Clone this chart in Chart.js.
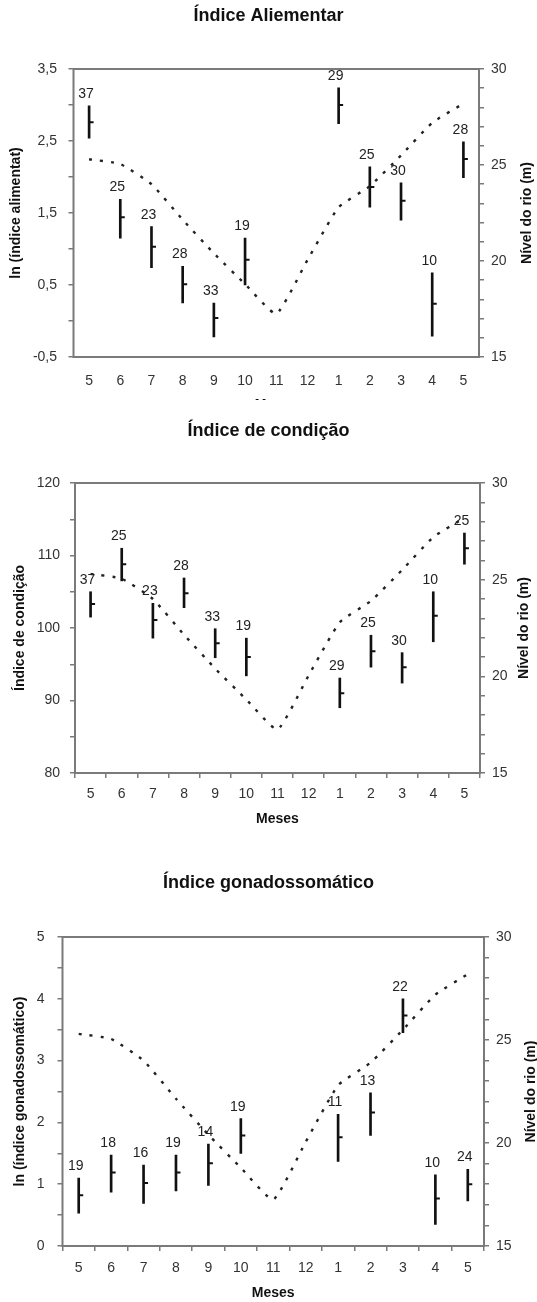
<!DOCTYPE html>
<html lang="pt">
<head>
<meta charset="utf-8">
<title>Índices mensais e nível do rio</title>
<script src="https://cdn.jsdelivr.net/npm/chart.js@4/dist/chart.umd.min.js"></script>
<style>
  html, body { margin: 0; padding: 0; background: #fff; }
  body { width: 537px; height: 1302px; position: relative; overflow: hidden; }
  .panel { position: absolute; left: 0; width: 537px; }
  canvas { display: block; }
</style>
</head>
<body>
<div class="panel" style="top:0;height:400px;overflow:hidden"><canvas id="c1" width="537" height="420"></canvas></div>
<div class="panel" style="top:405px;height:425px"><canvas id="c2" width="537" height="425"></canvas></div>
<div class="panel" style="top:850px;height:452px"><canvas id="c3" width="537" height="452"></canvas></div>

<script>
// Months of the sampling cycle (May to May)
const months = ['5', '6', '7', '8', '9', '10', '11', '12', '1', '2', '3', '4', '5'];

// River level (m), right axis of every panel
const riverLevel = [25.3, 25.05, 24.0, 22.15, 20.4, 18.8, 17.25, 20.05, 22.8, 23.9, 25.5, 27.2, 28.2];

// Índice alimentar: ln(index) mean, range and sample size
const alimMean = [2.76, 1.44, 1.03, 0.51, 0.04, 0.85, null, null, 3.00, 1.86, 1.67, 0.24, 2.25];
const alimLow  = [2.54, 1.15, 0.74, 0.25, -0.22, 0.50, null, null, 2.74, 1.58, 1.40, -0.21, 1.99];
const alimHigh = [2.99, 1.69, 1.31, 0.76, 0.25, 1.15, null, null, 3.24, 2.14, 1.92, 0.67, 2.49];
const alimN    = [37, 25, 23, 28, 33, 19, null, null, 29, 25, 30, 10, 28];

// Índice de condição
const condMean = [103.3, 108.8, 101.1, 104.8, 97.9, 96.0, null, null, 91.0, 96.8, 94.6, 101.7, 111.0];
const condLow  = [101.5, 106.5, 98.6, 102.8, 95.9, 93.4, null, null, 89.0, 94.6, 92.4, 98.1, 108.8];
const condHigh = [105.0, 111.0, 103.4, 106.9, 99.9, 98.6, null, null, 93.1, 99.0, 96.6, 105.0, 113.1];
const condN    = [37, 25, 23, 28, 33, 19, null, null, 29, 25, 30, 10, 25];

// Índice gonadossomático: ln(index)
const gonMean = [0.82, 1.19, 1.02, 1.19, 1.34, 1.79, null, null, 1.76, 2.16, 3.73, 0.77, 1.00];
const gonLow  = [0.53, 0.87, 0.69, 0.89, 0.98, 1.50, null, null, 1.37, 1.79, 3.45, 0.35, 0.73];
const gonHigh = [1.10, 1.47, 1.31, 1.47, 1.65, 2.06, null, null, 2.13, 2.48, 4.00, 1.15, 1.24];
const gonN    = [19, 18, 16, 19, 14, 19, null, null, 11, 13, 22, 10, 24];

const FONT = '"Liberation Sans", Arial, Helvetica, sans-serif';
const AXIS_GRAY = '#7a7a7a';
Chart.defaults.font.family = FONT;
Chart.defaults.color = '#333';

// Frame around the plotting area
const plotFrame = {
  id: 'plotFrame',
  afterDatasetsDraw(chart) {
    const { ctx, chartArea: a } = chart;
    ctx.save();
    ctx.strokeStyle = AXIS_GRAY;
    ctx.lineWidth = 2;
    ctx.strokeRect(a.left, a.top, a.right - a.left, a.bottom - a.top);
    ctx.restore();
  }
};

// Sample size written above each range bar
const countLabels = {
  id: 'countLabels',
  afterDatasetsDraw(chart, args, opts) {
    const meta = chart.getDatasetMeta(0);
    const { ctx } = chart;
    ctx.save();
    ctx.font = '14px ' + FONT;
    ctx.fillStyle = '#222';
    ctx.textAlign = 'center';
    ctx.textBaseline = 'middle';
    meta.data.forEach((bar, i) => {
      const n = opts.counts[i];
      if (n == null) return;
      const top = Math.min(bar.y, bar.base);
      ctx.fillText(String(n), bar.x - 3, top - 12);
    });
    ctx.restore();
  }
};

// Right-hand axis title, read from bottom to top
const rightTitle = {
  id: 'rightTitle',
  afterDraw(chart, args, opts) {
    const s = chart.scales.y2;
    const { ctx } = chart;
    ctx.save();
    ctx.translate(opts.x, (s.top + s.bottom) / 2);
    ctx.rotate(-Math.PI / 2);
    ctx.font = 'bold 14px ' + FONT;
    ctx.fillStyle = '#111';
    ctx.textAlign = 'center';
    ctx.textBaseline = 'middle';
    ctx.fillText(opts.text, 0, 0);
    ctx.restore();
  }
};

function onGrid(v, origin, every) {
  const k = (v - origin) / every;
  return Math.abs(k - Math.round(k)) < 1e-6;
}

function buildPanel(id, p) {
  const canvas = document.getElementById(id);
  const H = canvas.height;
  const W = canvas.width;
  const titleLine = 18 * 1.2;
  return new Chart(canvas, {
    type: 'bar',
    data: {
      labels: months,
      datasets: [
        {
          type: 'bar',
          data: p.low.map((v, i) => (v == null ? null : [v, p.high[i]])),
          backgroundColor: '#111',
          barThickness: 2,
          yAxisID: 'y',
          order: 2
        },
        {
          type: 'line',
          data: p.mean,
          showLine: false,
          pointStyle: 'dash',
          pointRadius: 4.5,
          pointBorderWidth: 2,
          pointBorderColor: '#111',
          pointBackgroundColor: '#111',
          yAxisID: 'y',
          order: 1
        },
        {
          type: 'line',
          data: riverLevel,
          yAxisID: 'y2',
          borderColor: '#222',
          borderWidth: 2.4,
          borderDash: [3, 8],
          pointRadius: 0,
          tension: 0.15,
          fill: false,
          order: 0
        }
      ]
    },
    options: {
      responsive: false,
      animation: false,
      events: [],
      layout: { padding: 0 },
      plugins: {
        legend: { display: false },
        tooltip: { enabled: false },
        title: {
          display: true,
          text: p.title,
          color: '#111',
          font: { size: 18, weight: 'bold' },
          padding: { top: p.titleTop, bottom: p.plot.top - p.titleTop - titleLine }
        },
        countLabels: { counts: p.n },
        rightTitle: { text: 'Nível do rio (m)', x: p.rightTitleX }
      },
      scales: {
        x: {
          type: 'category',
          offset: true,
          grid: {
            display: p.xTicks,
            drawOnChartArea: false,
            offset: true,
            tickLength: 5,
            color: AXIS_GRAY,
            lineWidth: 1.5
          },
          border: { display: false },
          ticks: { color: '#333', font: { size: 14 }, padding: p.xPad, maxRotation: 0, autoSkip: false },
          title: {
            display: true,
            text: 'Meses',
            color: '#111',
            font: { size: 14, weight: 'bold' },
            padding: { top: 0, bottom: p.mesesPad }
          },
          afterFit(sc) { sc.height = H - p.plot.bottom; }
        },
        y: {
          position: 'left',
          min: p.yMin,
          max: p.yMax,
          grid: { drawOnChartArea: false, tickLength: 5, color: AXIS_GRAY, lineWidth: 1.5 },
          border: { display: false },
          ticks: {
            stepSize: p.yStep,
            autoSkip: false,
            padding: p.yPad,
            color: '#333',
            font: { size: 14 },
            callback: (v) => (onGrid(v, p.labelOrigin, p.labelEvery) ? p.fmt(v) : '')
          },
          title: {
            display: true,
            text: p.yTitle,
            color: '#111',
            font: { size: 14, weight: 'bold' },
            padding: { top: p.yTitlePad, bottom: 0 }
          },
          afterFit(sc) { sc.width = p.plot.left; }
        },
        y2: {
          position: 'right',
          min: 15,
          max: 30,
          grid: { drawOnChartArea: false, tickLength: 5, color: AXIS_GRAY, lineWidth: 1.5 },
          border: { display: false },
          ticks: {
            stepSize: 1,
            autoSkip: false,
            padding: 7,
            color: '#333',
            font: { size: 14 },
            callback: (v) => (onGrid(v, 15, 5) ? String(v) : '')
          },
          afterFit(sc) { sc.width = W - p.plot.right; }
        }
      }
    },
    plugins: [plotFrame, countLabels, rightTitle]
  });
}

buildPanel('c1', {
  title: 'Índice Aliementar',
  yTitle: 'ln (índice alimentat)',
  mean: alimMean, low: alimLow, high: alimHigh, n: alimN,
  yMin: -0.5, yMax: 3.5, yStep: 0.5, labelOrigin: -0.5, labelEvery: 1,
  fmt: (v) => v.toFixed(1).replace('.', ','),
  plot: { left: 73.5, right: 479, top: 69, bottom: 357 },
  titleTop: 5.2, xPad: 10.6, xTicks: false, mesesPad: 6.4, yPad: 11.5, yTitlePad: 7.6, rightTitleX: 527.5
});

buildPanel('c2', {
  title: 'Índice de condição',
  yTitle: 'Índice de condição',
  mean: condMean, low: condLow, high: condHigh, n: condN,
  yMin: 80, yMax: 120, yStep: 5, labelOrigin: 80, labelEvery: 10,
  fmt: (v) => String(v),
  plot: { left: 75, right: 480, top: 78, bottom: 368 },
  titleTop: 15.2, xPad: 7.6, xTicks: true, mesesPad: 2.6, yPad: 10, yTitlePad: 12.1, rightTitleX: 524
});

buildPanel('c3', {
  title: 'Índice gonadossomático',
  yTitle: 'ln (índice gonadossomático)',
  mean: gonMean, low: gonLow, high: gonHigh, n: gonN,
  yMin: 0, yMax: 5, yStep: 0.5, labelOrigin: 0, labelEvery: 1,
  fmt: (v) => String(v),
  plot: { left: 62.5, right: 484, top: 87, bottom: 396 },
  titleTop: 22.7, xPad: 8.6, xTicks: true, mesesPad: 0.6, yPad: 13, yTitlePad: 12.1, rightTitleX: 531
});
</script>
</body>
</html>
